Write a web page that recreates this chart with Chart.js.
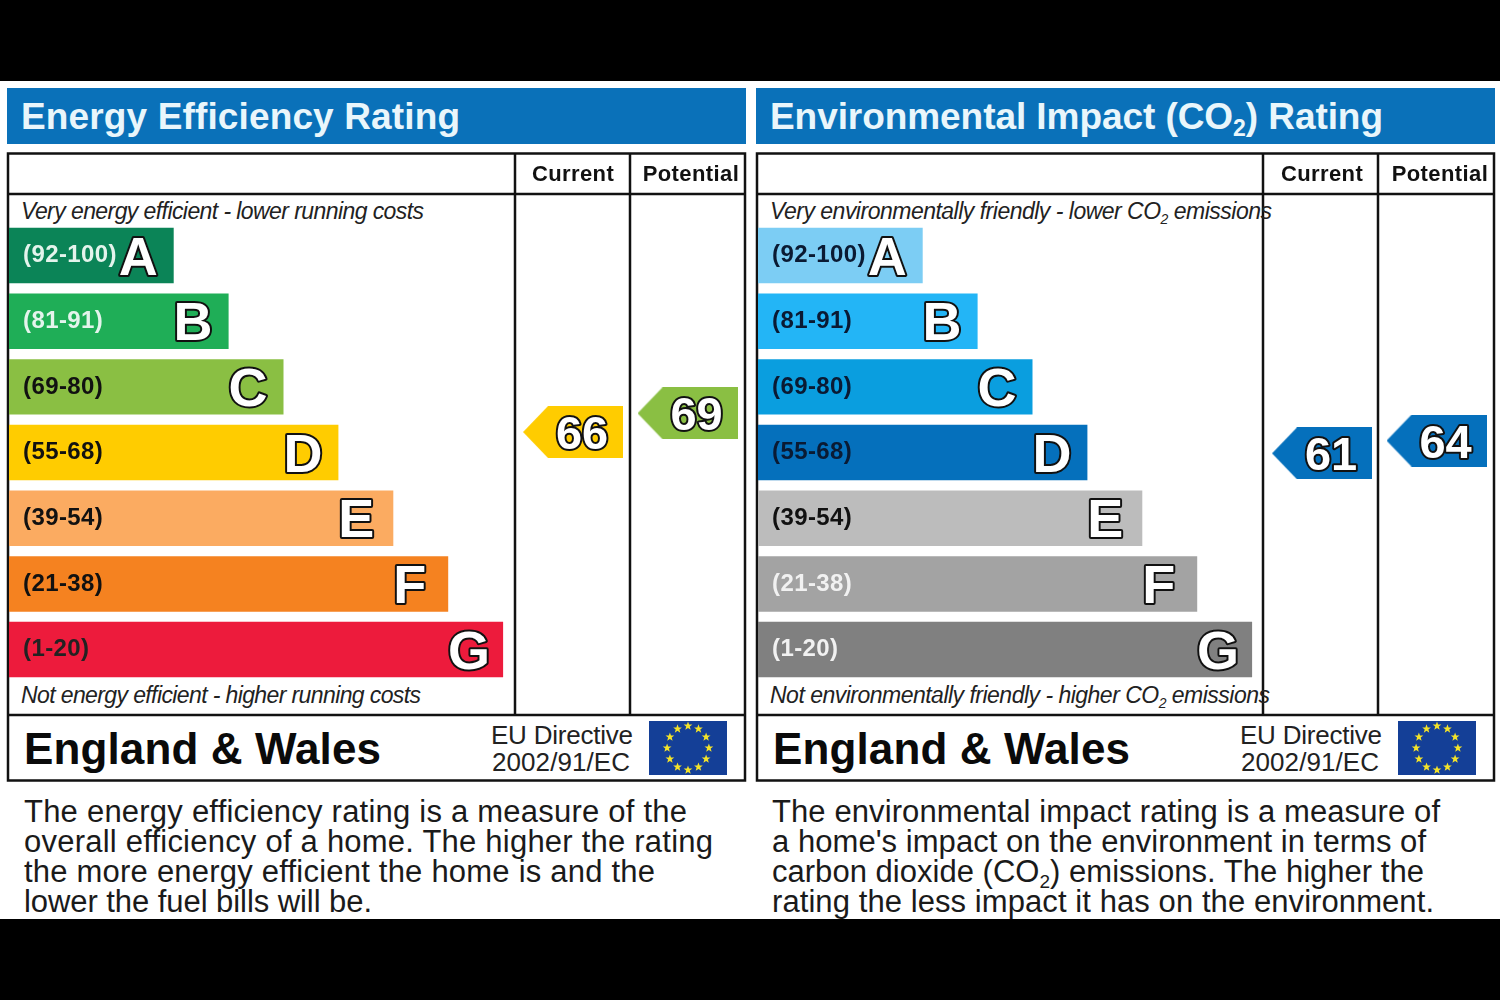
<!DOCTYPE html>
<html><head><meta charset="utf-8">
<style>
html,body{margin:0;padding:0;background:#000;width:1500px;height:1000px;overflow:hidden}
#sheet{position:absolute;left:0;top:81px;width:1500px;height:838px;background:#fff}
svg{position:absolute;left:0;top:0}
canvas{position:absolute;top:81px}
text{font-family:"Liberation Sans",Arial,sans-serif}
</style>
<script src="https://cdn.jsdelivr.net/npm/chart.js@4"></script>
</head><body>
<div id="sheet"></div>
<svg id="art" width="1500" height="1000" xmlns="http://www.w3.org/2000/svg"></svg>
<canvas id="energy" width="750" height="838" style="left:0"></canvas>
<canvas id="co2" width="750" height="838" style="left:750px"></canvas>
<script>
const bandRanges = ['(92-100)','(81-91)','(69-80)','(55-68)','(39-54)','(21-38)','(1-20)'];
const bandLow  = [92,81,69,55,39,21,1];
const bandHigh = [100,91,80,68,54,38,20];
const bandLetters = ['A','B','C','D','E','F','G'];
const bandLengths = [3,4,5,6,7,8,9];
const energyColors = ['#0b8457','#1fae57','#8abf43','#ffcc00','#fbab61','#f58220','#ed1b3c'];
const co2Colors = ['#7ccdf4','#23b5f6','#0a9edf','#0570bc','#bcbcbc','#a3a3a3','#808080'];
const energyLabelColors = ['#e4f4ec','#e4f4ec','#111','#111','#111','#111','#222'];
const co2LabelColors = ['#0a1a33','#0a1a33','#0a1a33','#0a1a33','#111','#f1f1f1','#f1f1f1'];
const columnLabels = ['Current','Potential'];
const energyRatings = [66,69];
const co2Ratings = [61,64];

function bandIndex(r){ return bandLow.findIndex((lo,k)=>r>=lo && r<=bandHigh[k]); }
function ratingPos(r){
  const i = bandIndex(r);
  return i + 0.0775 + 0.845*(bandHigh[i]-r)/(bandHigh[i]-bandLow[i]) - 0.02;
}
function arrow(color){
  const c=document.createElement('canvas'); c.width=100; c.height=52;
  const g=c.getContext('2d'); g.fillStyle=color; g.beginPath();
  g.moveTo(0,26); g.lineTo(25,0); g.lineTo(100,0); g.lineTo(100,52); g.lineTo(25,52); g.closePath(); g.fill();
  return c;
}
const labelsPlugin = {
  id:'epcLabels',
  beforeDraw(chart){ chart.ctx.letterSpacing='0.4px'; },
  afterDatasetsDraw(chart){
    const ctx=chart.ctx; ctx.save(); ctx.letterSpacing='0px';
    ctx.textAlign='left'; ctx.textBaseline='alphabetic'; ctx.lineJoin='round';
    ctx.font='bold 54px "Liberation Sans"';
    chart.getDatasetMeta(0).data.forEach((b,i)=>{
      ctx.lineWidth=4; ctx.strokeStyle='#111'; ctx.fillStyle='#fff';
      const x=b.x-55, y=b.y+19;
      ctx.strokeText(bandLetters[i],x,y); ctx.fillText(bandLetters[i],x,y);
    });
    ctx.textAlign='center';
    ctx.font='bold 47px "Liberation Sans"';
    chart.data.datasets.slice(1).forEach((ds,k)=>{
      const p=chart.getDatasetMeta(k+1).data[0], txt=String(ds.rating), x=p.x+9, y=p.y+17;
      ctx.lineWidth=4; ctx.strokeStyle='#111'; ctx.fillStyle='#fff';
      ctx.strokeText(txt,x,y); ctx.fillText(txt,x,y);
    });
    ctx.restore();
  }
};
const noMargins = s=>{s.paddingLeft=s.paddingRight=s.paddingTop=s.paddingBottom=0;};
function build(id,colors,labelColors,ratings,leftPad){
  return new Chart(document.getElementById(id),{
    type:'bar',
    plugins:[labelsPlugin],
    data:{labels:bandRanges,datasets:[
      {type:'bar',indexAxis:'y',label:'Band',data:bandLengths,backgroundColor:colors,xAxisID:'x',yAxisID:'y',
       categoryPercentage:1,barPercentage:0.845,grouped:false,order:2},
      ...ratings.map((r,k)=>({type:'scatter',indexAxis:'x',label:columnLabels[k],rating:r,
        data:[{x:k+1,y:ratingPos(r)}],xAxisID:'xCol',yAxisID:'yPos',
        pointStyle:arrow(colors[bandIndex(r)]),pointRadius:1,order:1}))
    ]},
    options:{
      responsive:false,animation:false,indexAxis:'y',
      layout:{padding:{left:leftPad,right:750-736-leftPad,top:141.7,bottom:236.6}},
      plugins:{legend:{display:false},tooltip:{enabled:false},title:{display:false}},
      scales:{
        x:{type:'linear',axis:'x',min:0,max:13.406,display:false},
        y:{type:'category',axis:'y',position:'left',offset:true,
           grid:{display:false,drawTicks:false},border:{display:false},
           afterFit(s){s.width=0;noMargins(s);},
           ticks:{mirror:true,z:2,padding:14,autoSkip:false,
             font:{family:'"Liberation Sans"',weight:'bold',size:24},
             color:c=>labelColors[c.index]}},
        xCol:{type:'linear',axis:'x',position:'top',offset:false,min:-3.926,max:2.502,
           grid:{display:false,drawTicks:false},border:{display:false},
           afterFit(s){s.height=0;noMargins(s);},
           afterBuildTicks(s){s.ticks=[{value:1},{value:2.03}];},
           ticks:{mirror:true,padding:-61,autoSkip:false,maxRotation:0,color:'#111',
             font:{family:'"Liberation Sans"',weight:'bold',size:22},
             callback:(v,i)=>columnLabels[i]}},
        yPos:{type:'linear',axis:'y',offset:false,min:0,max:7,reverse:true,display:false}
      }
    }
  });
}
build('energy',energyColors,energyLabelColors,energyRatings,9);
build('co2',co2Colors,co2LabelColors,co2Ratings,8);

/* furniture around the two charts */
const NS='http://www.w3.org/2000/svg', art=document.getElementById('art');
function el(n,a,p){const e=document.createElementNS(NS,n);for(const k in a)e.setAttribute(k,a[k]);(p||art).appendChild(e);return e;}
function txt(x,y,w,size,parts,o={}){
  const t=el('text',{x,y,'font-size':size,fill:o.fill||'#111','font-weight':o.bold?'bold':'normal','font-style':o.italic?'italic':'normal',
    textLength:w,lengthAdjust:'spacing'});
  t.style.whiteSpace='pre';
  [].concat(parts).forEach(s=>{
    if(typeof s==='string'){const sp=el('tspan',{},t);sp.textContent=s;}
    else{
      const d=Math.round(size*0.2);
      const sp=el('tspan',{dy:d,'font-size':Math.round(size*0.62)},t);sp.textContent=s.sub;
      const back=el('tspan',{dy:-d,'font-size':size},t);back.textContent=s.after;
    }
  });
}
function panel(dx,d){
  const X=v=>v+dx;
  el('rect',{x:X(7),y:88,width:739,height:56,fill:'#0a71b9'});
  txt(X(21),d.titleY,d.titleW,37,d.title,{bold:true,fill:'#e9f6fb'});
  const ln=(x1,y1,x2,y2)=>el('line',{x1,y1,x2,y2,stroke:'#111','stroke-width':2.5});
  el('rect',{x:X(8),y:153.5,width:737,height:627,fill:'none',stroke:'#111','stroke-width':2.5});
  ln(X(8),194,X(745),194); ln(X(8),715,X(745),715);
  ln(X(d.c1),153,X(d.c1),715); ln(X(d.c2),153,X(d.c2),715);
  txt(X(21),219,d.topW,23,d.top,{italic:true,fill:'#222'});
  txt(X(21),703,d.botW,23,d.bot,{italic:true,fill:'#222'});
  txt(X(24),764,357,44,'England & Wales',{bold:true,fill:'#0a0a0a'});
  txt(X(d.eu),744,142,26,'EU Directive',{fill:'#222'});
  txt(X(d.eu+1),771,138,26,'2002/91/EC',{fill:'#222'});
  el('rect',{x:X(d.fx),y:721,width:78,height:54,fill:'#143f97'});
  for(let i=0;i<12;i++){
    const a=i*Math.PI/6, cx=X(d.fx+39)+22*Math.sin(a)*0.95, cy=748-22*Math.cos(a);
    let pts=[];
    for(let k=0;k<10;k++){const r=k%2?1.9:4.6,b=k*Math.PI/5;pts.push((cx+r*Math.sin(b)).toFixed(1)+','+(cy-r*Math.cos(b)).toFixed(1));}
    el('polygon',{points:pts.join(' '),fill:'#f3e32a'});
  }
  d.para.forEach((l,i)=>txt(X(d.px),822+30*i,l[0],31,l[1],{fill:'#1a1a1a'}));
}
panel(0,{title:'Energy Efficiency Rating',titleY:129,titleW:439,c1:515,c2:630,px:24,
  top:'Very energy efficient - lower running costs',topW:403,
  bot:'Not energy efficient - higher running costs',botW:400,eu:491,fx:649,
  para:[[663,'The energy efficiency rating is a measure of the'],
        [689,'overall efficiency of a home. The higher the rating'],
        [631,'the more energy efficient the home is and the'],
        [348,'lower the fuel bills will be.']]});
panel(749,{title:['Environmental Impact (CO',{sub:'2',after:') Rating'}],titleY:129,titleW:613,c1:514,c2:629,px:23,
  top:['Very environmentally friendly - lower CO',{sub:'2',after:' emissions'}],topW:502,
  bot:['Not environmentally friendly - higher CO',{sub:'2',after:' emissions'}],botW:500,eu:491,fx:649,
  para:[[668,'The environmental impact rating is a measure of'],
        [654,"a home's impact on the environment in terms of"],
        [652,['carbon dioxide (CO',{sub:'2',after:') emissions. The higher the'}]],
        [662,'rating the less impact it has on the environment.']]});
</script>
</body></html>
